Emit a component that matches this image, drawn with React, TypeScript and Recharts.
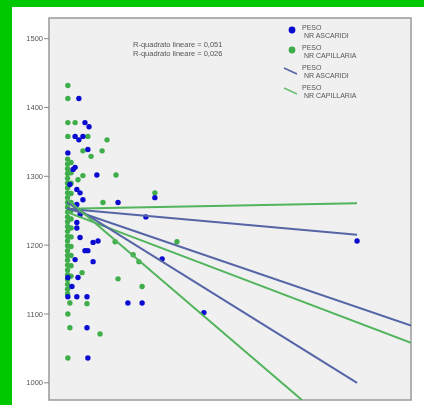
import { ScatterChart, Scatter, XAxis, YAxis, CartesianGrid, ReferenceArea } from 'recharts'

// NR parasites (x) vs PESO (y)
const ASCARIDI: [number, number][] = [
  [4.1, 1413], [6.2, 1378], [7.6, 1372], [2.8, 1358], [4.1, 1353], [5.5, 1358],
  [7.2, 1339], [0.3, 1334], [2.1, 1310], [2.8, 1313], [10.3, 1302], [30.3, 1269],
  [17.6, 1262], [27.2, 1241], [3.4, 1281], [4.5, 1276], [5.5, 1266], [3.4, 1259],
  [4.5, 1244], [3.4, 1233], [3.4, 1225], [4.5, 1211], [10.7, 1206], [9.0, 1204],
  [6.2, 1192], [7.2, 1192], [2.8, 1179], [9.0, 1176], [32.8, 1180], [0.3, 1153],
  [3.8, 1153], [1.7, 1140], [0.3, 1125], [3.4, 1125], [6.9, 1125], [21.0, 1116],
  [25.9, 1116], [47.2, 1102], [6.9, 1080], [7.2, 1036], [100, 1206], [1.0, 1288],
]

const CAPILLARIA: [number, number][] = [
  [0.3, 1432], [0.3, 1413], [0.3, 1378], [2.8, 1378], [0.3, 1358], [7.2, 1358],
  [13.8, 1353], [5.5, 1337], [12.1, 1337], [8.3, 1329], [16.9, 1302], [5.5, 1301],
  [30.3, 1276], [12.4, 1262], [37.9, 1205], [16.6, 1205], [22.8, 1186], [24.8, 1176],
  [17.6, 1151], [25.9, 1140], [5.2, 1160], [1.0, 1116], [6.9, 1115], [0.3, 1100],
  [1.0, 1080], [11.4, 1071], [0.3, 1036], [3.8, 1295],
  [0.2, 1325], [0.2, 1318], [0.2, 1311], [0.2, 1304], [0.2, 1297], [0.2, 1290],
  [0.2, 1283], [0.2, 1276], [0.2, 1269], [0.2, 1262], [0.2, 1255], [0.2, 1248],
  [0.2, 1241], [0.2, 1234], [0.2, 1227], [0.2, 1220], [0.2, 1213], [0.2, 1206],
  [0.2, 1199], [0.2, 1192], [0.2, 1185], [0.2, 1178], [0.2, 1171], [0.2, 1164],
  [0.2, 1157], [0.2, 1150], [0.2, 1143], [0.2, 1136], [0.2, 1129],
  [1.4, 1320], [1.4, 1305], [1.4, 1290], [1.4, 1275], [1.4, 1262], [1.4, 1250],
  [1.4, 1238], [1.4, 1225], [1.4, 1212], [1.4, 1198], [1.4, 1185], [1.4, 1170], [1.4, 1155],
]

// fit line end points
const FIT_LINES: { color: string; pts: [number, number][] }[] = [
  { color: '#52b45c', pts: [[0, 1253], [100, 1261]] },
  { color: '#5565a5', pts: [[0, 1253], [100, 1215]] },
  { color: '#5565a5', pts: [[0, 1254], [118.6, 1083]] },
  { color: '#52b45c', pts: [[0, 1248], [118.6, 1058]] },
  { color: '#5565a5', pts: [[0, 1262], [100, 1000]] },
  { color: '#52b45c', pts: [[0, 1267], [81, 975]] },
]

const X_DOMAIN: [number, number] = [-6.2, 118.6]
const Y_DOMAIN: [number, number] = [975, 1530]
const X_TICKS = [0, 20, 40, 60, 80, 100]
const Y_TICKS = [1000, 1100, 1200, 1300, 1400, 1500]

const R_SQUARED = ['R-quadrato lineare = 0,051', 'R-quadrato lineare = 0,026']

const LEGEND = [
  { kind: 'dot', color: '#0a0ad0', label: ['PESO', 'NR ASCARIDI'] },
  { kind: 'dot', color: '#3fae4a', label: ['PESO', 'NR CAPILLARIA'] },
  { kind: 'line', color: '#5565a5', label: ['PESO', 'NR ASCARIDI'] },
  { kind: 'line', color: '#6abf74', label: ['PESO', 'NR CAPILLARIA'] },
]

const toObj = (arr: [number, number][]) => arr.map(([x, y]) => ({ x, y }))

const dot = (color: string) => (props: any) => (
  <circle cx={props.cx} cy={props.cy} r={2.7} fill={color} />
)

function LegendBox() {
  return (
    <svg width={110} height={84} style={{ fontFamily: 'Arial, sans-serif', display: 'block' }}>
      {LEGEND.map((item, i) => {
        const y0 = i * 20
        return (
          <g key={i}>
            {item.kind === 'dot' ? (
              <circle cx={10} cy={y0 + 6} r={3.4} fill={item.color} />
            ) : (
              <line x1={2} y1={y0 + 4} x2={15} y2={y0 + 10} stroke={item.color} strokeWidth={1.6} />
            )}
            <text x={20} y={y0 + 6} fontSize={7} fill="#555">{item.label[0]}</text>
            <text x={22} y={y0 + 14} fontSize={7} fill="#555">{item.label[1]}</text>
          </g>
        )
      })}
    </svg>
  )
}

export default function App() {
  return (
    <div style={{ position: 'absolute', left: 0, top: 0, width: 424, height: 405, background: '#00c800', overflow: 'hidden' }}>
      <div style={{ position: 'absolute', left: 12, top: 7, width: 412, height: 398, background: '#fff' }} />
      <div style={{ position: 'absolute', left: 0, top: 0, filter: 'blur(0.4px)' }}>
        <ScatterChart width={424} height={405} margin={{ top: 18, right: 13, bottom: 0, left: 0 }}>
          <CartesianGrid horizontal={false} vertical={false} fill="#f0f0f0" />
          <XAxis
            type="number"
            dataKey="x"
            domain={X_DOMAIN}
            ticks={X_TICKS}
            allowDataOverflow
            height={5}
            tick={false}
            tickSize={5}
            axisLine={false}
            tickLine={{ stroke: '#888' }}
          />
          <YAxis
            type="number"
            dataKey="y"
            domain={Y_DOMAIN}
            ticks={Y_TICKS}
            allowDataOverflow
            width={49}
            tickSize={5}
            tickMargin={1}
            axisLine={false}
            tickLine={{ stroke: '#888' }}
            tick={{ fontSize: 7.5, fill: '#555', fontFamily: 'Arial, sans-serif' }}
          />
          <ReferenceArea x1={X_DOMAIN[0]} x2={X_DOMAIN[1]} y1={Y_DOMAIN[0]} y2={Y_DOMAIN[1]} fill="none" stroke="#999" strokeWidth={1.5} />
          <Scatter data={toObj(CAPILLARIA)} shape={dot('#3fae4a')} isAnimationActive={false} />
          <Scatter data={toObj(ASCARIDI)} shape={dot('#0a0ad0')} isAnimationActive={false} />
          {FIT_LINES.map((l, i) => (
            <Scatter
              key={i}
              data={toObj(l.pts)}
              line={{ stroke: l.color, strokeWidth: 2 }}
              shape={() => <g />}
              isAnimationActive={false}
            />
          ))}
        </ScatterChart>
      </div>
      <div style={{ position: 'absolute', left: 282, top: 24, filter: 'blur(0.4px)' }}>
        <LegendBox />
      </div>
      <div style={{ position: 'absolute', left: 133, top: 41, fontFamily: 'Arial, sans-serif', fontSize: 7.5, lineHeight: '8.6px', color: '#555', filter: 'blur(0.4px)' }}>
        {R_SQUARED.map((t) => (
          <div key={t}>{t}</div>
        ))}
      </div>
    </div>
  )
}
